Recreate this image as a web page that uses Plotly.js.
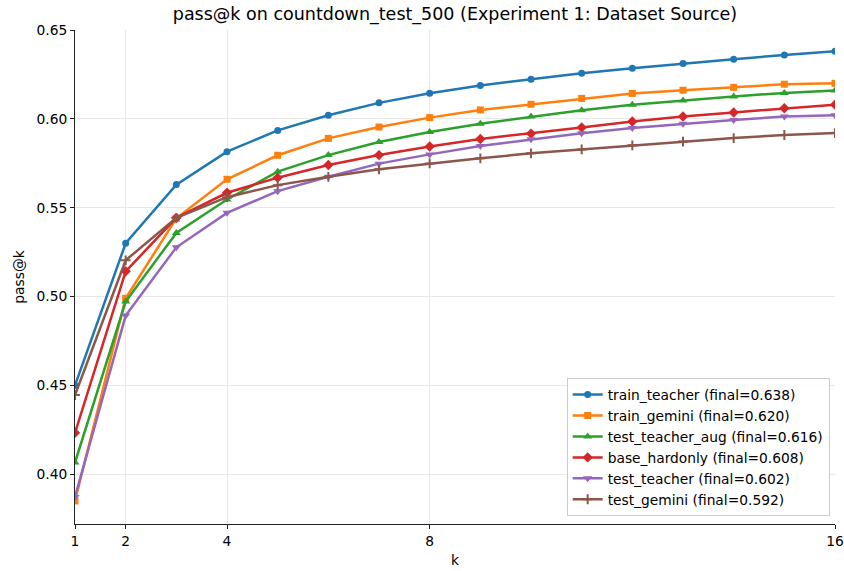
<!DOCTYPE html>
<html>
<head>
<meta charset="utf-8">
<script src="https://cdn.plot.ly/plotly-3.0.1.min.js"></script>
<style>html,body{margin:0;padding:0;background:#fff;}#chart{width:844px;height:571px;}</style>
</head>
<body>
<div id="chart"></div>
<script>
const kValues = [1,2,3,4,5,6,7,8,9,10,11,12,13,14,15,16];
const trainTeacher = [0.450,0.530,0.563,0.5815,0.5935,0.602,0.609,0.6144,0.6188,0.6223,0.6257,0.6285,0.6312,0.6336,0.6359,0.638];
const trainGemini  = [0.385,0.499,0.544,0.566,0.5795,0.589,0.5954,0.6007,0.605,0.6082,0.6115,0.6143,0.6161,0.6177,0.6195,0.620];
const testTeacherAug = [0.4066,0.4972,0.5358,0.5546,0.5703,0.5796,0.587,0.5926,0.5973,0.6013,0.6049,0.6079,0.6103,0.6126,0.6146,0.616];
const baseHardonly = [0.4233,0.5142,0.5443,0.5584,0.5669,0.574,0.5796,0.5844,0.5887,0.5917,0.5951,0.5985,0.6013,0.6036,0.606,0.608];
const testTeacher = [0.3872,0.4893,0.5277,0.5471,0.5593,0.5674,0.5748,0.580,0.5847,0.5885,0.5919,0.5949,0.5973,0.5994,0.6013,0.602];
const testGemini = [0.4446,0.5204,0.5443,0.5559,0.5627,0.5674,0.5716,0.5749,0.5778,0.5806,0.5828,0.5851,0.5872,0.5892,0.5909,0.592];

const seriesNames = ["train_teacher (final=0.638)","train_gemini (final=0.620)","test_teacher_aug (final=0.616)","base_hardonly (final=0.608)","test_teacher (final=0.602)","test_gemini (final=0.592)"];
const seriesData = [trainTeacher, trainGemini, testTeacherAug, baseHardonly, testTeacher, testGemini];
const colors = ["#1f77b4","#ff7f0e","#2ca02c","#d62728","#9467bd","#8c564b"];
const symbols = ["circle","square","triangle-up","diamond","triangle-down","cross-thin"];
const sizes = [7,7,8,8,8,7];

const xTicks = [1,2,4,8,16];
const yTicks = [0.40,0.45,0.50,0.55,0.60,0.65];

const traces = seriesData.map((ys,i)=>({
  x: kValues, y: ys, name: seriesNames[i], type:'scatter', mode:'lines+markers',
  line:{color:colors[i], width:2.5},
  marker:{symbol:symbols[i], size:sizes[i], color:colors[i], line:{color:colors[i], width: symbols[i]==='cross-thin'?2:0}}
}));

const font = "DejaVu Sans, sans-serif";
const layout = {
  width:844, height:571,
  margin:{l:75, r:9, t:30, b:47},
  paper_bgcolor:'#fff', plot_bgcolor:'#fff',
  font:{family:font, size:13.8, color:'#000'},
  title:{text:'pass@k on countdown_test_500 (Experiment 1: Dataset Source)', font:{family:font,size:17.5,color:'#000'}, x:0.5, xref:'paper', y:0.975, yanchor:'middle'},
  xaxis:{range:[1,16], tickvals:xTicks, ticktext:xTicks.map(String), showgrid:true, gridcolor:'#e8e8e8', gridwidth:1,
    zeroline:false, showline:true, linecolor:'#222', linewidth:1, ticks:'outside', ticklen:4, tickcolor:'#222',
    tickfont:{size:13.8}, title:{text:'k', font:{size:13.8}, standoff:7}},
  yaxis:{range:[0.372,0.65], tickvals:yTicks, ticktext:yTicks.map(v=>v.toFixed(2)), showgrid:true, gridcolor:'#e8e8e8', gridwidth:1,
    zeroline:false, showline:true, linecolor:'#222', linewidth:1, ticks:'outside', ticklen:4, tickcolor:'#222',
    tickfont:{size:13.8}, title:{text:'pass@k', font:{size:13.8}, standoff:8}},
  legend:{x:0.993, y:0.016, xanchor:'right', yanchor:'bottom', bgcolor:'rgba(255,255,255,0.85)', bordercolor:'#cccccc', borderwidth:1,
    font:{size:13.8}, itemwidth:30},
  showlegend:true
};
Plotly.newPlot('chart', traces, layout, {displayModeBar:false, staticPlot:true});
</script>
</body>
</html>
